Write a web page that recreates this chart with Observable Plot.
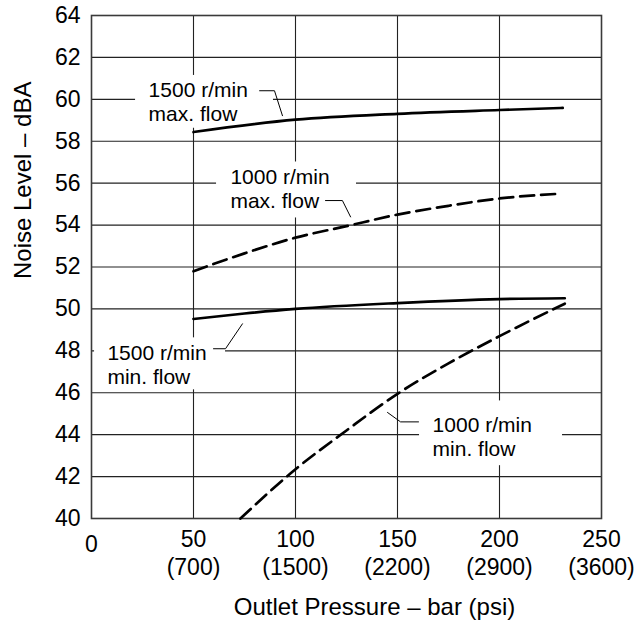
<!DOCTYPE html>
<html>
<head>
<meta charset="utf-8">
<script src="https://cdn.jsdelivr.net/npm/d3@7"></script>
<script src="https://cdn.jsdelivr.net/npm/@observablehq/plot@0.6"></script>
<style>
  html, body { margin: 0; padding: 0; background: #fff; }
  svg { display: block; }
</style>
</head>
<body>
<div id="chart"></div>
<script>
// ---- Tick labels ----
const xTicks = [0, 50, 100, 150, 200, 250];
const barLabels = ["0", "50", "100", "150", "200", "250"];
const psiLabels = ["", "(700)", "(1500)", "(2200)", "(2900)", "(3600)"];
const yTicks = [40, 42, 44, 46, 48, 50, 52, 54, 56, 58, 60, 62, 64];

// ---- Series (outlet pressure in bar, noise level in dBA) ----
const p1500max = [50, 100, 150, 200, 231];
const n1500max = [58.44, 59.03, 59.31, 59.49, 59.59];

const p1000max = [50, 75, 100, 125, 150, 175, 200, 230];
const n1000max = [51.8, 52.65, 53.4, 53.95, 54.5, 54.92, 55.27, 55.5];

const p1500min = [50, 75, 100, 150, 200, 232];
const n1500min = [49.52, 49.78, 50.0, 50.28, 50.47, 50.51];

const p1000min = [73, 100, 125, 150, 175, 200, 232];
const n1000min = [40, 42.35, 44.2, 45.95, 47.4, 48.7, 50.25];

// ---- Annotation labels (data coordinates) ----
const labelText = ["1500 r/min\nmax. flow", "1000 r/min\nmax. flow", "1500 r/min\nmin. flow", "1000 r/min\nmin. flow"];
const labelX = [28, 68.1, 7.8, 167.2];
const labelY = [59.9, 55.76, 47.36, 43.93];
// white boxes behind labels
const boxX1 = [21.6, 61.3, 1.5, 160.8];
const boxX2 = [89.2, 129.9, 65.7, 230.9];
const boxY1 = [58.62, 54.34, 46.14, 42.52];
const boxY2 = [61.14, 57.01, 48.62, 45.61];
// leader lines
const leaderX = [[82.4, 89.7, 93.6], [114.7, 123.0, 127.0], [59.8, 65.7, 74.0], [160.3, 151.5, 145.1]];
const leaderY = [[60.41, 60.41, 59.22], [55.17, 55.17, 54.39], [48.1, 48.1, 49.29], [44.61, 44.61, 45.06]];

const toRows = (name, xs, ys) => xs.map((x, i) => ({series: name, x, y: ys[i]}));
const solid = [...toRows("1500 max", p1500max, n1500max), ...toRows("1500 min", p1500min, n1500min)];
const dashed = [...toRows("1000 max", p1000max, n1000max), ...toRows("1000 min", p1000min, n1000min)];
const labels = labelText.map((t, i) => ({t, x: labelX[i], y: labelY[i]}));
const boxes = boxX1.map((_, i) => ({x1: boxX1[i], x2: boxX2[i], y1: boxY1[i], y2: boxY2[i]}));
const leaders = leaderX.flatMap((xs, k) => xs.map((x, i) => ({k, x, y: leaderY[k][i]})));
const xt = xTicks.map((v, i) => ({v, bar: barLabels[i], psi: psiLabels[i]}));

const font = "'Liberation Sans', Arial, Helvetica, sans-serif";

const chart = Plot.plot({
  width: 638,
  height: 623,
  marginLeft: 91,
  marginRight: 37,
  marginTop: 15,
  marginBottom: 105,
  style: {fontFamily: font, background: "#fff", color: "#000"},
  x: {domain: [0, 250], axis: null},
  y: {domain: [40, 64], axis: null},
  marks: [
    Plot.ruleX(xTicks.slice(1, -1), {stroke: "#222", strokeWidth: 1.1}),
    Plot.ruleY(yTicks.slice(1, -1), {stroke: "#222", strokeWidth: 1.1}),
    Plot.rect(boxes, {x1: "x1", x2: "x2", y1: "y1", y2: "y2", fill: "white"}),
    Plot.frame({stroke: "#3a3a3a", strokeWidth: 1.6}),
    Plot.line(solid, {x: "x", y: "y", z: "series", stroke: "#000", strokeWidth: 2.7, curve: "monotone-x"}),
    Plot.line(dashed, {x: "x", y: "y", z: "series", stroke: "#000", strokeWidth: 2.7, strokeDasharray: "14,7", curve: "monotone-x"}),
    Plot.line(leaders, {x: "x", y: "y", z: "k", stroke: "#000", strokeWidth: 1}),
    Plot.text(labels, {x: "x", y: "y", text: "t", textAnchor: "start", lineAnchor: "middle", lineHeight: 1.16, fontSize: 21, fill: "#000"}),
    // y tick labels
    Plot.text(yTicks, {y: d => d, frameAnchor: "left", dx: -11, textAnchor: "end", text: d => String(d), fontSize: 23, fill: "#000"}),
    // x tick labels
    Plot.text(xt.filter(d => d.v === 0), {x: "v", frameAnchor: "bottom", dy: 26, text: "bar", lineAnchor: "middle", fontSize: 23, fill: "#000"}),
    Plot.text(xt.filter(d => d.v !== 0), {x: "v", frameAnchor: "bottom", dy: 21, text: "bar", lineAnchor: "middle", fontSize: 23, fill: "#000"}),
    Plot.text(xt.filter(d => d.psi), {x: "v", frameAnchor: "bottom", dy: 49, text: "psi", lineAnchor: "middle", fontSize: 23, fill: "#000"}),
    // axis titles
    Plot.text(["Outlet Pressure \u2013 bar (psi)"], {frameAnchor: "bottom", dx: 28, dy: 89, lineAnchor: "middle", fontSize: 24, fill: "#000"}),
    Plot.text(["Noise Level \u2013 dBA"], {frameAnchor: "left", dx: -68, dy: 12, rotate: -90, lineAnchor: "middle", fontSize: 24, fill: "#000"})
  ]
});
document.getElementById("chart").appendChild(chart);
</script>
</body>
</html>
